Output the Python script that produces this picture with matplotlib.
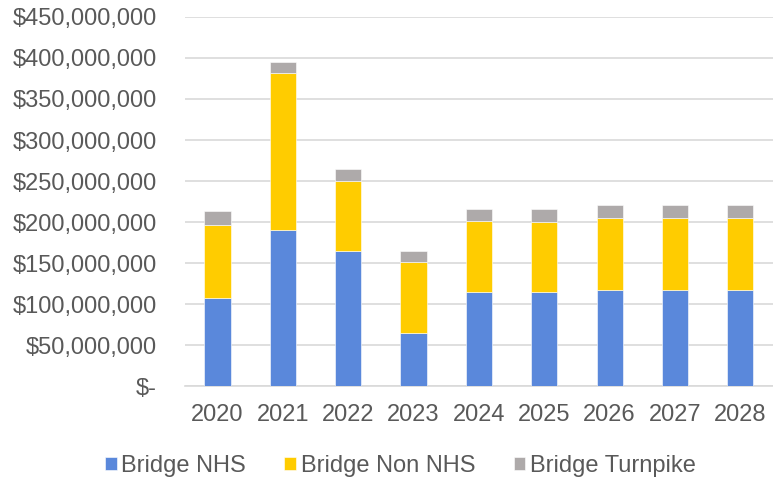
import matplotlib
matplotlib.use("Agg")
import matplotlib.pyplot as plt
import numpy as np
from matplotlib.ticker import FuncFormatter, MultipleLocator

plt.rcParams['font.family'] = ['Liberation Sans', 'DejaVu Sans']

years = ["2020", "2021", "2022", "2023", "2024", "2025", "2026", "2027", "2028"]
bridge_nhs = [108e6, 191e6, 165e6, 65e6, 115e6, 115e6, 117e6, 117e6, 117e6]
bridge_non_nhs = [88.5e6, 190e6, 85e6, 86e6, 86e6, 85.5e6, 88.5e6, 88.5e6, 88e6]
bridge_turnpike = [17e6, 14.5e6, 15e6, 14e6, 15e6, 15e6, 15e6, 15.5e6, 15.5e6]

series_names = ["Bridge NHS", "Bridge Non NHS", "Bridge Turnpike"]
colors = ["#5A88DB", "#FFCC00", "#AEAAAA"]
text_color = "#595959"
grid_color = "#D9D9D9"

fig = plt.figure(figsize=(7.73, 4.8), dpi=100)
ax = fig.add_axes([0.239, 0.195, 0.761, 0.77])

x = np.arange(len(years))
width = 0.40
bottom = np.zeros(len(years))
for vals, name, col in zip([bridge_nhs, bridge_non_nhs, bridge_turnpike], series_names, colors):
    ax.bar(x, vals, width, bottom=bottom, color=col, label=name,
           edgecolor="white", linewidth=0.4, zorder=3)
    bottom += np.array(vals)

ax.set_xlim(-0.5, len(years) - 0.5)
ax.set_ylim(0, 450e6)
ax.yaxis.set_major_locator(MultipleLocator(50e6))


def money(v, pos):
    if v == 0:
        return "$-"
    return "${:,.0f}".format(v)


ax.yaxis.set_major_formatter(FuncFormatter(money))
ax.set_xticks(x)
ax.set_xticklabels(years)

ax.grid(axis="y", color=grid_color, linewidth=1.2, zorder=0)
for s in ["top", "right", "left"]:
    ax.spines[s].set_visible(False)
ax.spines["bottom"].set_color(grid_color)
ax.spines["bottom"].set_linewidth(1.2)

ax.tick_params(axis="y", length=0, pad=20, labelsize=17, labelcolor=text_color)
ax.tick_params(axis="x", length=0, pad=13, labelsize=17, labelcolor=text_color)

leg = fig.legend(loc="center", bbox_to_anchor=(0.518, 14 / 480), ncol=3, frameon=False,
                 fontsize=17, handlelength=0.5, handleheight=0.5, handletextpad=0.2,
                 columnspacing=1.62)
for t in leg.get_texts():
    t.set_color(text_color)

fig.savefig("out.png", dpi=100)
